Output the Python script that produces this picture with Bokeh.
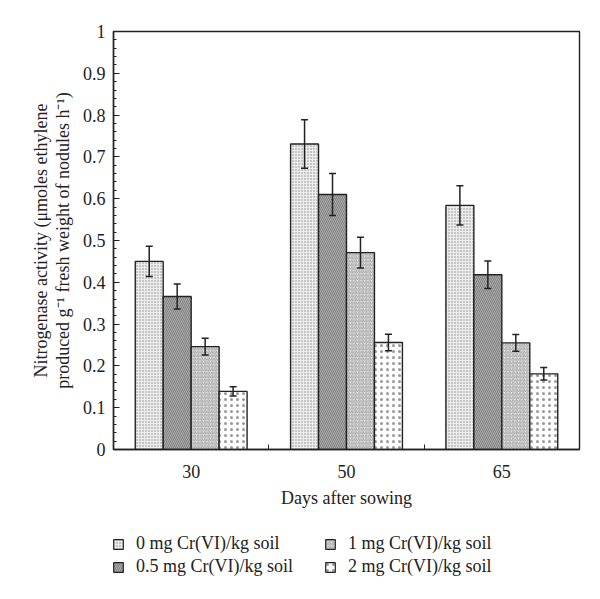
from bokeh.plotting import figure
from bokeh.layouts import column
from bokeh.models import (ColumnDataSource, Whisker, TeeHead, FixedTicker, Legend,
                          LegendItem, Range1d)
from bokeh.embed import file_html
from bokeh.resources import INLINE

# ---- data ----
days = ["30", "50", "65"]
series_labels = ["0 mg Cr(VI)/kg soil", "0.5 mg Cr(VI)/kg soil",
                 "1 mg Cr(VI)/kg soil", "2 mg Cr(VI)/kg soil"]
cr0 = [0.450, 0.731, 0.584]
cr0_err = [0.036, 0.058, 0.047]
cr05 = [0.366, 0.610, 0.418]
cr05_err = [0.030, 0.050, 0.033]
cr1 = [0.246, 0.471, 0.255]
cr1_err = [0.020, 0.037, 0.020]
cr2 = [0.139, 0.256, 0.181]
cr2_err = [0.011, 0.020, 0.015]

series = [(cr0, cr0_err), (cr05, cr05_err), (cr1, cr1_err), (cr2, cr2_err)]

styles = [
    dict(fill_color="#ededed", hatch_pattern="dot", hatch_color="#8a8a8a", hatch_scale=3, hatch_weight=1),
    dict(fill_color="#acacac", hatch_pattern="left_diagonal_line", hatch_color="#7e7e7e", hatch_scale=4, hatch_weight=1),
    dict(fill_color="#eeeeee", hatch_pattern="right_diagonal_line", hatch_color="#a0a0a0", hatch_scale=3.5, hatch_weight=1),
    dict(fill_color="#ffffff", hatch_pattern="dot", hatch_color="#777777", hatch_scale=6, hatch_weight=1, hatch_alpha=0.75),
]

FONT = "Liberation Serif"
TXT = "#222222"
FS = "18px"
TOP_H = 520
TOTAL_H = 583

p = figure(width=584, height=TOP_H, x_range=Range1d(0, 3), y_range=Range1d(0, 1),
           output_backend="svg", toolbar_location=None,
           min_border_left=113, min_border_right=5, min_border_top=31, min_border_bottom=71)

p.xgrid.visible = False
p.ygrid.visible = False
p.outline_line_color = "#222222"
p.outline_line_width = 1.4
p.background_fill_color = "white"
p.border_fill_color = "white"

# legend holder figure (below the chart)
lp = figure(width=584, height=TOTAL_H - TOP_H, x_range=Range1d(0, 1), y_range=Range1d(0, 1),
            output_backend="svg", toolbar_location=None, x_axis_type=None, y_axis_type=None,
            min_border_left=0, min_border_right=0, min_border_top=0, min_border_bottom=0)
lp.outline_line_color = None
lp.background_fill_color = "white"
lp.border_fill_color = "white"

bar_w = 0.18
n = len(series)
items = []
for k, ((vals, errs), st, lab) in enumerate(zip(series, styles, series_labels)):
    xs = [i + 0.5 + (k - (n - 1) / 2) * bar_w for i in range(len(days))]
    src = ColumnDataSource(dict(x=xs, top=vals,
                                upper=[v + e for v, e in zip(vals, errs)],
                                lower=[v - e for v, e in zip(vals, errs)]))
    p.vbar(x="x", top="top", width=bar_w, bottom=0, source=src,
           line_color="#222222", line_width=1.4, **st)
    w = Whisker(base="x", upper="upper", lower="lower", source=src, level="overlay",
                line_color="#222222", line_width=1.5,
                upper_head=TeeHead(size=7, line_width=1.5, line_color="#222222"),
                lower_head=TeeHead(size=7, line_width=1.5, line_color="#222222"))
    p.add_layout(w)
    # legend swatch renderer (placed outside the legend figure's visible range)
    lr = lp.vbar(x=[-10], top=[0], width=0.1, line_color="#222222", line_width=1.2, **st)
    items.append(LegendItem(label=lab, renderers=[lr]))

# ---- axes ----
xa = p.xaxis[0]
xa.ticker = FixedTicker(ticks=[i + 0.5 for i in range(len(days))],
                        minor_ticks=[i for i in range(1, len(days))])
xa.major_label_overrides = {i + 0.5: d for i, d in enumerate(days)}
xa.major_tick_line_color = None
xa.minor_tick_in = 5
xa.minor_tick_out = 0
xa.minor_tick_line_color = "#222222"
xa.axis_line_color = "#222222"
xa.axis_line_width = 1.4
xa.axis_label = "Days after sowing"
xa.major_label_standoff = 9
xa.axis_label_standoff = 7

ya = p.yaxis[0]
ya.ticker = FixedTicker(ticks=[i / 10 for i in range(11)],
                        minor_ticks=[i / 50 for i in range(51)])
ya.major_label_overrides = {i / 10: ("0" if i == 0 else ("1" if i == 10 else f"{i/10:.1f}")) for i in range(11)}
ya.major_tick_in = 6
ya.major_tick_out = 0
ya.minor_tick_in = 3
ya.minor_tick_out = 0
ya.major_tick_line_color = "#222222"
ya.minor_tick_line_color = "#222222"
ya.axis_line_color = "#222222"
ya.axis_line_width = 1.4
ya.axis_label = "Nitrogenase activity (\u03bcmoles ethylene\nproduced g\u207b\u00b9 fresh weight of nodules h\u207b\u00b9)"
ya.major_label_standoff = 8
ya.axis_label_standoff = 7
ya.axis_label_text_line_height = 1.1

for ax in (xa, ya):
    ax.major_label_text_font = FONT
    ax.major_label_text_font_size = FS
    ax.major_label_text_color = TXT
    ax.axis_label_text_font = FONT
    ax.axis_label_text_font_size = FS
    ax.axis_label_text_font_style = "normal"
    ax.axis_label_text_color = TXT

# ---- legend ----
legend = Legend(items=items, location=(-1, 5), nrows=2, orientation="vertical",
                glyph_width=12, glyph_height=12, label_standoff=12,
                label_width=188, label_height=23, spacing=0, padding=0, margin=0,
                border_line_color=None, background_fill_alpha=0,
                label_text_font=FONT, label_text_font_size=FS, label_text_color=TXT)
lp.add_layout(legend, "center")

layout = column(p, lp, spacing=0)
open("out.html", "w").write(file_html(layout, INLINE))
